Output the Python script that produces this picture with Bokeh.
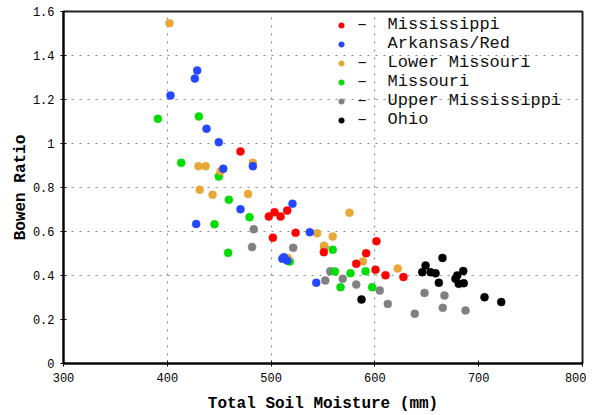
from bokeh.plotting import figure
from bokeh.models import FixedTicker, Legend, LegendItem
from bokeh.embed import file_html
from bokeh.resources import INLINE

# ---- data ----
miss_x = [470.5, 497.8, 503.3, 509.1, 515.5, 501.7, 523.6, 550.8, 601.5, 591.6, 582.0, 600.6, 610.2, 627.5]
miss_y = [0.964, 0.668, 0.688, 0.668, 0.695, 0.572, 0.594, 0.506, 0.556, 0.501, 0.453, 0.426, 0.401, 0.393]

ark_x = [428.8, 426.5, 403.1, 437.8, 449.6, 482.4, 453.9, 470.5, 520.6, 427.8, 537.3, 512.3, 515.5, 510.8, 543.5]
ark_y = [1.332, 1.295, 1.218, 1.067, 1.006, 0.897, 0.885, 0.701, 0.726, 0.634, 0.597, 0.483, 0.468, 0.476, 0.367]

lmo_x = [402.1, 482.4, 430.0, 437.0, 451.3, 431.2, 443.6, 477.8, 544.4, 575.5, 559.4, 588.4, 622.0, 551.0, 516.0]
lmo_y = [1.547, 0.912, 0.897, 0.897, 0.874, 0.790, 0.767, 0.771, 0.592, 0.685, 0.577, 0.464, 0.432, 0.535, 0.480]

mo_x = [390.9, 430.4, 413.4, 449.6, 459.3, 479.2, 445.5, 458.6, 518.0, 559.4, 561.4, 576.5, 591.0, 566.9, 597.4]
mo_y = [1.112, 1.123, 0.912, 0.850, 0.744, 0.665, 0.633, 0.503, 0.464, 0.517, 0.418, 0.410, 0.419, 0.347, 0.347]

umi_x = [483.3, 481.7, 521.3, 551.4, 557.0, 552.2, 569.0, 582.0, 604.7, 612.4, 647.8, 667.0, 665.4, 687.3, 638.4]
umi_y = [0.610, 0.529, 0.526, 0.529, 0.419, 0.377, 0.385, 0.359, 0.332, 0.271, 0.321, 0.309, 0.253, 0.241, 0.226]

ohio_x = [587.1, 665.1, 648.8, 653.6, 658.4, 645.6, 661.6, 677.6, 680.8, 685.6, 685.1, 679.3, 705.6, 721.7]
ohio_y = [0.291, 0.480, 0.445, 0.415, 0.410, 0.415, 0.367, 0.385, 0.362, 0.365, 0.420, 0.400, 0.301, 0.279]

series_names = ["Mississippi", "Arkansas/Red", "Lower Missouri", "Missouri", "Upper Mississippi", "Ohio"]
series_labels = ["\u2013  Mississippi", "   Arkansas/Red", "\u2013  Lower Missouri", "\u2013  Missouri",
                 "\u2013  Upper Mississippi", "\u2013  Ohio"]
series_colors = ["#ff0000", "#2448ff", "#e8a838", "#00dd00", "#808080", "#000000"]

x_ticks = [300, 400, 500, 600, 700, 800]
y_ticks = [0, 0.2, 0.4, 0.6, 0.8, 1.0, 1.2, 1.4, 1.6]
y_tick_labels = ["0", "0.2", "0.4", "0.6", "0.8", "1", "1.2", "1.4", "1.6"]
x_grid = [400, 500, 600]
y_grid = [0.4, 0.6, 0.8, 1.0, 1.2, 1.4]

# ---- figure ----
p = figure(frame_width=519, frame_height=352, x_range=(300, 800), y_range=(0, 1.6),
           output_backend="svg", toolbar_location=None,
           min_border_left=63, min_border_top=11, min_border_right=4, min_border_bottom=40)
p.background_fill_color = "white"
p.outline_line_color = "#222222"
p.outline_line_width = 2

xs = [miss_x, ark_x, lmo_x, mo_x, umi_x, ohio_x]
ys = [miss_y, ark_y, lmo_y, mo_y, umi_y, ohio_y]
order = [4, 3, 2, 1, 0, 5]
rmap = {}
for i in order:
    r = p.scatter(xs[i], ys[i], marker="circle", size=8, fill_color=series_colors[i],
                  line_color=series_colors[i], line_width=0.5)
    rmap[i] = r

items = [LegendItem(label=series_labels[i], renderers=[rmap[i]]) for i in range(6)]
legend = Legend(items=items, location=(270, 234), border_line_color=None,
                background_fill_alpha=0, padding=0, margin=0, spacing=-6,
                glyph_width=16, glyph_height=14, label_height=14, label_standoff=8,
                label_text_font="Liberation Mono", label_text_font_size="17px",
                label_text_color="#111111")
p.add_layout(legend, "center")

# axes
for ax in (p.xaxis[0], p.yaxis[0]):
    ax.axis_line_width = 2
    ax.axis_line_color = "black"
    ax.major_tick_line_color = "black"
    ax.major_tick_line_width = 1
    ax.major_tick_in = 3
    ax.major_tick_out = 3
    ax.minor_tick_line_color = None
    ax.major_label_text_font = "Liberation Mono"
    ax.major_label_text_font_size = "12px"
    ax.major_label_text_color = "black"
    ax.axis_label_text_font = "Liberation Mono"
    ax.axis_label_text_font_style = "bold"
    ax.axis_label_text_font_size = "16px"
    ax.axis_label_text_color = "black"

p.xaxis.ticker = FixedTicker(ticks=x_ticks)
p.yaxis.ticker = FixedTicker(ticks=y_ticks)
p.yaxis.major_label_overrides = dict(zip(y_ticks, y_tick_labels))
p.xaxis.axis_label = "Total Soil Moisture (mm)"
p.yaxis.axis_label = "Bowen Ratio"
p.xaxis.major_label_standoff = 6
p.xaxis.axis_label_standoff = 10
p.yaxis.major_label_standoff = 6
p.yaxis.axis_label_standoff = 0

# grids
p.xgrid.ticker = FixedTicker(ticks=x_grid)
p.ygrid.ticker = FixedTicker(ticks=y_grid)
for g in (p.xgrid[0], p.ygrid[0]):
    g.grid_line_color = "#8a8a8a"
    g.grid_line_dash = "2 6"
    g.grid_line_width = 1.2

open("out.html", "w").write(file_html(p, INLINE))
